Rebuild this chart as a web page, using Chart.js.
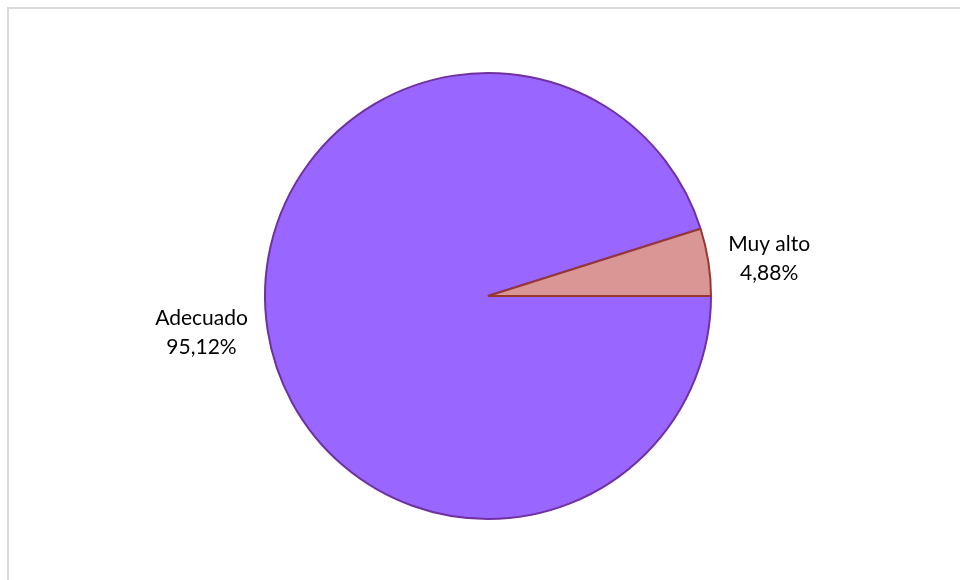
<!DOCTYPE html>
<html>
<head>
<meta charset="utf-8">
<script src="https://cdn.jsdelivr.net/npm/chart.js@4/dist/chart.umd.min.js"></script>
<style>
  html, body { margin: 0; padding: 0; background: #fff; overflow: hidden; }
  #frame { position: absolute; left: 7px; top: 7px; width: 1000px; height: 700px;
           border-left: 2px solid #d9d9d9; border-top: 2px solid #d9d9d9; }
  #wrap { position: absolute; left: 0; top: 0; width: 960px; height: 580px; }
</style>
</head>
<body>
<div id="frame"></div>
<div id="wrap"><canvas id="c" width="960" height="580"></canvas></div>
<script>
const categories = ["Adecuado", "Muy alto"];
const values = [95.12, 4.88];
const valueLabels = ["95,12%", "4,88%"];
const fillColors = ["#9966FF", "#D99694"];
const borderColors = ["#7030A0", "#953735"];

const labelPlugin = {
  id: 'outsideLabels',
  afterDatasetsDraw(chart) {
    const ctx = chart.ctx;
    const meta = chart.getDatasetMeta(0);
    ctx.save();
    ctx.font = '21px Lato, "Liberation Sans", sans-serif';
    ctx.fillStyle = '#000';
    ctx.textAlign = 'center';
    ctx.textBaseline = 'middle';
    meta.data.forEach((arc, i) => {
      const p = arc.getProps(['x', 'y', 'startAngle', 'endAngle', 'outerRadius'], true);
      const mid = (p.startAngle + p.endAngle) / 2;
      const dx = Math.cos(mid), dy = Math.sin(mid);
      const lines = [categories[i], valueLabels[i]];
      const w = Math.max(...lines.map(t => ctx.measureText(t).width));
      const r = p.outerRadius + 20;
      const cx = p.x + dx * r + Math.sign(dx) * w / 2;
      const cy = p.y + dy * r;
      const lh = 29;
      lines.forEach((t, k) => {
        ctx.fillText(t, cx, cy + (k - (lines.length - 1) / 2) * lh);
      });
    });
    ctx.restore();
  }
};

new Chart(document.getElementById('c'), {
  type: 'pie',
  data: {
    labels: categories,
    datasets: [{
      data: values,
      backgroundColor: fillColors,
      borderColor: borderColors,
      borderWidth: 2,
      radius: 223
    }]
  },
  options: {
    responsive: false,
    animation: false,
    devicePixelRatio: 1,
    rotation: 90,
    layout: { padding: { left: 16, right: 0, top: 12, bottom: 0 } },
    plugins: { legend: { display: false }, tooltip: { enabled: false } }
  },
  plugins: [labelPlugin]
});
</script>
</body>
</html>
